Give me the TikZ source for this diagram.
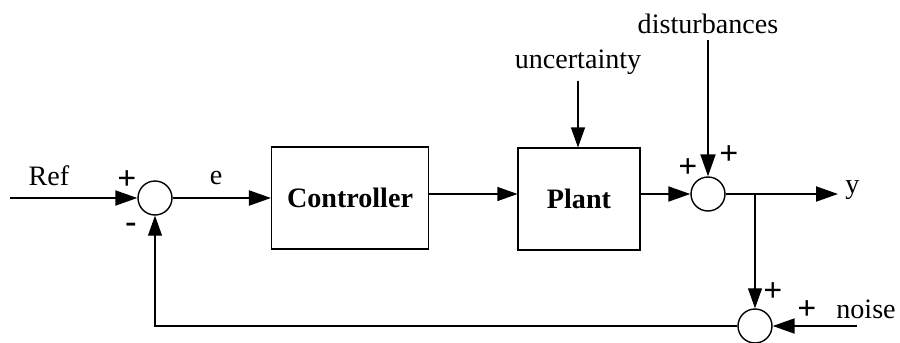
\documentclass[tikz,border=0pt]{standalone}
\usepackage{fontspec}
\setmainfont{Liberation Serif}
\usetikzlibrary{calc, shapes.geometric, positioning, arrows.meta}

\tikzset{
  blockbox/.style={draw, line width=0.6pt, minimum width=3.14cm, minimum height=2.04cm, font=\fontsize{16}{19}\selectfont\bfseries},
  sumnode/.style={draw, circle, line width=0.8pt, minimum size=0.68cm, inner sep=0pt},
  sig/.style={line width=1.1pt, -{Triangle[length=4.4mm,width=3mm]}},
  thinsig/.style={line width=0.6pt, -{Triangle[length=4mm,width=2.8mm]}},
  pm/.style={font=\fontsize{19}{20}\selectfont\bfseries, inner sep=0pt}
}

\begin{document}
\begin{tikzpicture}[x=0.02cm, y=-0.02cm, every node/.append style={font=\fontsize{16}{19}\selectfont}]
\useasboundingbox (0,0) rectangle (900,342);

\node[sumnode] (sum1) at (155,198) {};
\node[blockbox] (ctrl) at (350,198) {Controller};
\node[blockbox, minimum width=2.44cm] (plant) at (579,199) {Plant};
\node[sumnode] (sum2) at (708,194) {};
\node[sumnode] (sum3) at (755,326) {};

\coordinate (ref) at (10,198);
\coordinate (yout) at (838,194);
\coordinate (branch) at (755,194);
\coordinate (noiseend) at (857,326);
\coordinate (fbcorner) at (155,326);

\node (reflabel) at (49,176) {Ref};
\node (elabel) at (216,178) {e};
\node[anchor=west, inner sep=0pt] (ylabel) at (845,190) {y};
\node (uncert) at (578,62) {uncertainty};
\node (dist) at (708,24) {disturbances};
\node (noise) at (866,309) {noise};

\node[pm] at (127,180) {+};
\node[pm] at (131,228) {-};
\node[pm] at (688,168) {+};
\node[pm] at (729,155) {+};
\node[pm] at (773,292) {+};
\node[pm] at (807,310) {+};

\draw[sig] (ref) -- (sum1);
\draw[sig] (sum1) -- (ctrl);
\draw[thinsig] (ctrl.east |- 0,194) -- (plant.west |- 0,194);
\draw[thinsig] (uncert.south) -- (uncert.south |- plant.north);
\draw[sig] (plant.east |- sum2) -- (sum2);
\draw[sig] (dist.south) -- (sum2);
\draw[sig] (sum2) -- (yout);
\draw[thinsig] (branch) -- (sum3);
\draw[sig] (noiseend) -- (sum3);
\draw[line width=0.6pt, -{Triangle[length=4mm,width=2.8mm]}] (sum3) -- (fbcorner) -- (sum1);
\end{tikzpicture}
\end{document}
